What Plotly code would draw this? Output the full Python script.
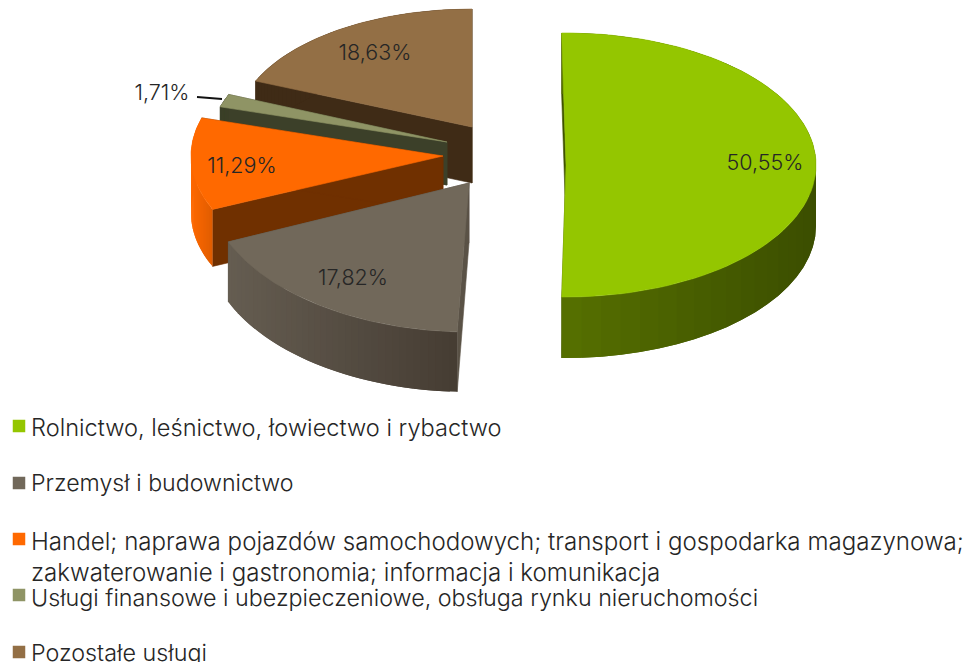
import math
import plotly.graph_objects as go

# ---- data ----
categories = [
    "Rolnictwo, leśnictwo, łowiectwo i rybactwo",
    "Przemysł i budownictwo",
    "Handel; naprawa pojazdów samochodowych; transport i gospodarka magazynowa;<br>zakwaterowanie i gastronomia; informacja i komunikacja",
    "Usługi finansowe i ubezpieczeniowe, obsługa rynku nieruchomości",
    "Pozostałe usługi",
]
values = [50.55, 17.82, 11.29, 1.71, 18.63]

# ---- styling ----
top_colors = ["#94c600", "#71685a", "#ff6900", "#8f9465", "#936f45"]
cut_colors = ["#3f5200", "#5a5246", "#703000", "#3c4029", "#3f2b16"]
wall_left = ["#567000", "#655d51", "#ff6900", "#3c4029", "#3f2b16"]
wall_right = ["#3b4e00", "#453c33", "#e05c00", "#3c4029", "#3f2b16"]

# exploded-pie geometry in pixels, one entry per slice
apex_x = [566, 469, 443, 447, 472]
apex_y = [165, 183, 156, 142, 127]
radius_x = [250, 262, 252, 237, 235]
radius_y = [132, 149, 132, 122, 118]
depths = [61, 60, 57, 43, 56]
rotation = [-1, 0.6, 0, 0, 0]

label_x = [765, 353, 242, 162, 375]
label_y = [165, 280, 168, 95, 55]

legend_y = [427, 483, 540, 597, 652]
legend_size = [23.6, 23.2, 24.1, 23.3, 23.3]
square_y = [426, 483, 539, 595, 652]
leader_x = [197, 222]
leader_y = [97, 99]

FONT = "Inter, sans-serif"
INK = "#262626"
BANDS = 40


def hex_rgb(h):
    return [int(h[i:i + 2], 16) for i in (1, 3, 5)]


def mix(a, b, t):
    ca, cb = hex_rgb(a), hex_rgb(b)
    return "rgb(%d,%d,%d)" % tuple(round(p + (q - p) * t) for p, q in zip(ca, cb))


def rim(i, deg):
    r = math.radians(deg + rotation[i])
    return apex_x[i] + radius_x[i] * math.sin(r), apex_y[i] - radius_y[i] * math.cos(r)


def poly(xs, ys, color, edge=0.6):
    return go.Scatter(
        x=xs + xs[:1], y=ys + ys[:1], mode="lines", fill="toself", fillcolor=color,
        line=dict(color=color, width=edge), hoverinfo="skip", showlegend=False,
    )


total = sum(values)
angles = [0]
for v in values:
    angles.append(angles[-1] + v / total * 360)

fig = go.Figure()

# painted back to front: brown, small, orange, grey, green
for i in [4, 3, 2, 1, 0]:
    a0, a1 = angles[i], angles[i + 1]
    d = depths[i]
    for a in (a0, a1):
        x, y = rim(i, a)
        fig.add_trace(poly([apex_x[i], x, x, apex_x[i]],
                           [apex_y[i], y, y + d, apex_y[i] + d], cut_colors[i]))
    steps = [a0 + (a1 - a0) * k / BANDS for k in range(BANDS + 1)]
    pts = [rim(i, a) for a in steps]
    xmin = min(p[0] for p in pts)
    xmax = max(p[0] for p in pts)
    # each band overlaps the next one, so no seam shows between them
    for k in range(BANDS):
        (x0, y0) = pts[k]
        (x1, y1) = pts[k + 1]
        (x2, y2) = pts[min(k + 2, BANDS)]
        t = ((x0 + x1) / 2 - xmin) / max(xmax - xmin, 1)
        fig.add_trace(poly([x0, x1, x2, x2, x1, x0], [y0, y1, y2, y2 + d, y1 + d, y0 + d],
                           mix(wall_left[i], wall_right[i], t), edge=0))
    fine = [a0 + (a1 - a0) * k / 80 for k in range(81)]
    top = [rim(i, a) for a in fine]
    fig.add_trace(poly([apex_x[i]] + [p[0] for p in top],
                       [apex_y[i]] + [p[1] for p in top], top_colors[i]))

# leader line for the small slice
fig.add_trace(go.Scatter(x=leader_x, y=leader_y, mode="lines",
                         line=dict(color="#111111", width=2),
                         hoverinfo="skip", showlegend=False))

# percentage labels
fig.add_trace(go.Scatter(
    x=label_x, y=label_y, mode="text",
    text=[f"{v:.2f}".replace(".", ",") + "%" for v in values],
    textposition="middle center",
    textfont=dict(family=FONT, size=21.5, color=INK, weight=300),
    hoverinfo="skip", showlegend=False,
))

# legend squares
fig.add_trace(go.Scatter(
    x=[19] * len(categories), y=square_y, mode="markers",
    marker=dict(symbol="square", size=12.5, color=top_colors, line=dict(width=0)),
    hoverinfo="skip", showlegend=False,
))

# legend text
for name, y, size in zip(categories, legend_y, legend_size):
    fig.add_annotation(
        x=29, y=y, xref="x", yref="y", text=name, showarrow=False,
        xanchor="left", yanchor="top" if "<br>" in name else "middle",
        yshift=15 if "<br>" in name else 0,
        align="left", font=dict(family=FONT, size=size, color=INK, weight=300),
    )

fig.update_layout(
    width=966, height=662, margin=dict(l=0, r=0, t=0, b=0),
    paper_bgcolor="white", plot_bgcolor="white", showlegend=False,
    xaxis=dict(range=[0, 966], visible=False, fixedrange=True),
    yaxis=dict(range=[662, 0], visible=False, fixedrange=True),
)

fig.write_html("out.html", post_script="document.body.style.margin='0';document.body.style.overflow='hidden';",
               config={"displayModeBar": False})
